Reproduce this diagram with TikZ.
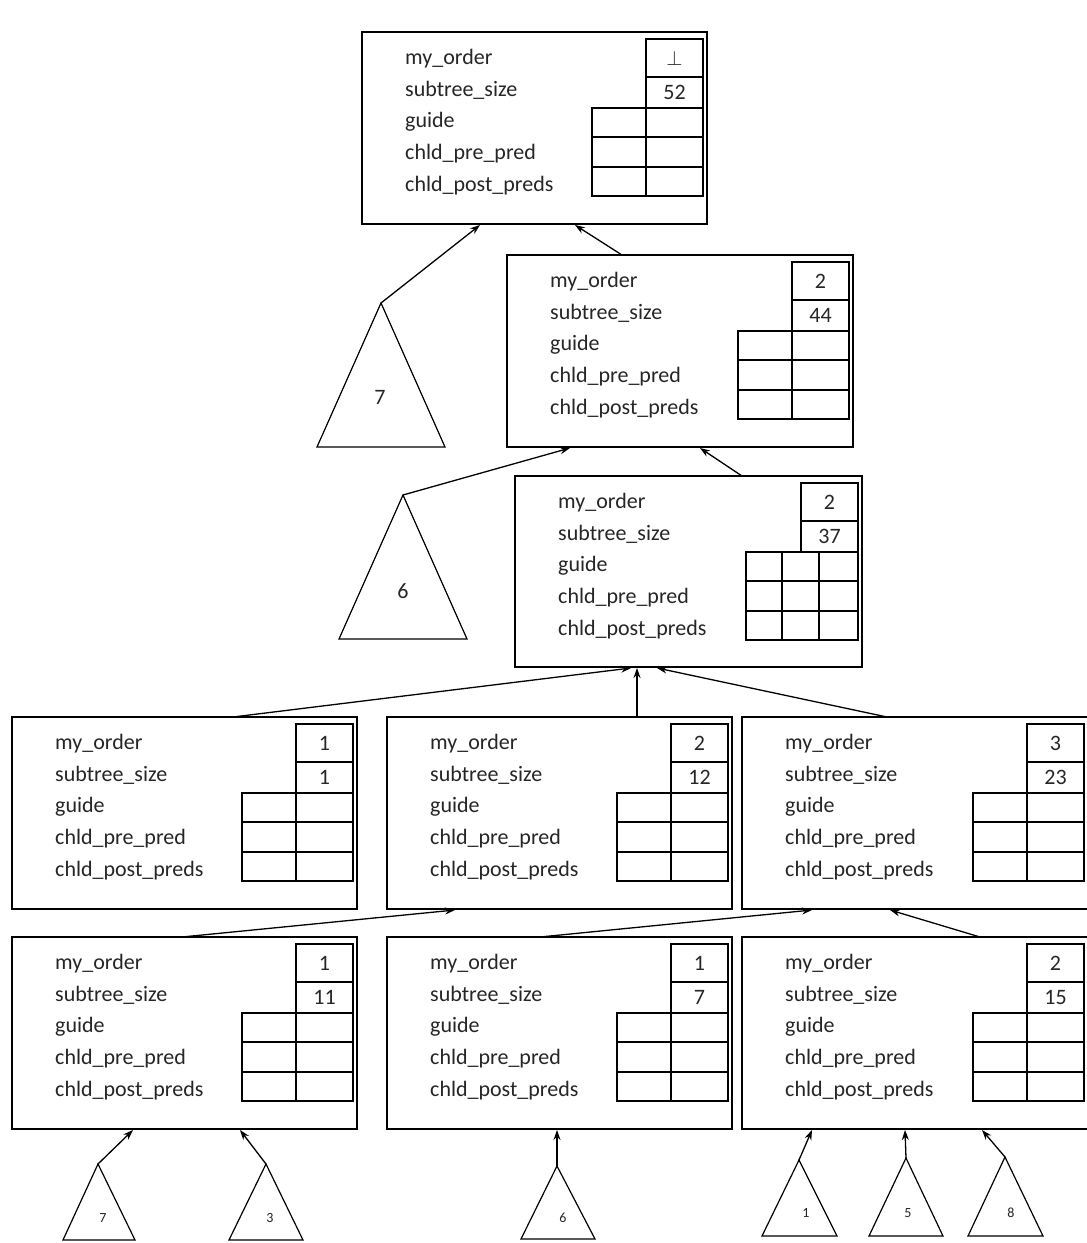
\documentclass[tikz,border=0pt]{standalone}
\usepackage{fontspec}
\setmainfont{Carlito}
\usetikzlibrary{arrows.meta,fit}
\tikzset{
  boxst/.style={draw, line width=1.6pt, inner sep=0pt},
  cell/.style={line width=1.3pt},
  lbl/.style={anchor=west, inner sep=0pt, text height=15pt, text depth=4pt, font=\fontsize{22}{26}\selectfont, text=black!85},
  val/.style={inner sep=0pt, font=\fontsize{22}{26}\selectfont, text=black!85},
  conn/.style={line width=1.3pt, -{Stealth[length=10pt,width=7pt]}},
  tri/.style={line width=1.2pt},
  bignum/.style={inner sep=0pt, font=\fontsize{22}{26}\selectfont, text=black!85},
  smallnum/.style={inner sep=0pt, font=\fontsize{14}{16}\selectfont, text=black!85},
}
% #1 name, #2 L, #3 T, #4 R, #5 B, #6 order, #7 size, #8 number of grid columns
\newcommand{\recbox}[8]{%
  \coordinate (#1-nw) at (#2,#3);
  \coordinate (#1-se) at (#4,#5);
  \node[boxst, fit=(#1-nw)(#1-se)] (#1) {};
  \node[lbl] (#1-l1) at (#2+43,#3+27) {my\_order};
  \node[lbl] (#1-l2) at (#2+43,#3+59) {subtree\_size};
  \node[lbl] (#1-l3) at (#2+43,#3+90) {guide};
  \node[lbl] (#1-l4) at (#2+43,#3+122) {chld\_pre\_pred};
  \node[lbl] (#1-l5) at (#2+43,#3+154) {chld\_post\_preds};
  \draw[cell] (#4-61,#3+76) -- (#4-61,#3+7) -- (#4-4,#3+7) -- (#4-4,#3+76);
  \draw[cell] (#4-61,#3+45) -- (#4-4,#3+45);
  \node[val] (#1-v1) at (#4-32.5,#3+26) {#6};
  \node[val] (#1-v2) at (#4-32.5,#3+60.5) {#7};
  \ifnum#8=3
    \draw[cell] (#4-116,#3+76) rectangle (#4-4,#3+164);
    \draw[cell] (#4-80,#3+76) -- (#4-80,#3+164);
    \draw[line width=1.8pt] (#4-43,#3+76) -- (#4-43,#3+164);
    \draw[cell] (#4-116,#3+105) -- (#4-4,#3+105);
    \draw[cell] (#4-116,#3+135) -- (#4-4,#3+135);
  \else
    \draw[cell] (#4-115,#3+76) rectangle (#4-4,#3+164);
    \draw[cell] (#4-61,#3+76) -- (#4-61,#3+164);
    \draw[cell] (#4-115,#3+105) -- (#4-4,#3+105);
    \draw[cell] (#4-115,#3+135) -- (#4-4,#3+135);
  \fi
}
% #1 name, #2 apex x, #3 apex y, #4 base left x, #5 base right x, #6 base y
\newcommand{\subtri}[6]{%
  \coordinate (#1) at (#2,#3);
  \draw[tri] (#1) -- (#4,#6) -- (#5,#6) -- cycle;
}
\begin{document}
\begin{tikzpicture}[x=1pt,y=-1pt]
\useasboundingbox (0,0) rectangle (1087,1243);
\fill[white] (0,0) rectangle (1087,1243);

\recbox{A}{362}{32}{707}{224}{$\perp$}{52}{2}
\recbox{B}{507}{255}{853}{447}{2}{44}{2}
\recbox{C}{515}{476}{862}{667}{2}{37}{3}
\recbox{D1}{12}{717}{357}{909}{1}{1}{2}
\recbox{D2}{387}{717}{732}{909}{2}{12}{2}
\draw[line width=1.9pt] (671,793) -- (671,881);
\recbox{D3}{742}{717}{1088}{909}{3}{23}{2}
\recbox{E1}{12}{937}{357}{1129}{1}{11}{2}
\recbox{E2}{387}{937}{732}{1129}{1}{7}{2}
\recbox{E3}{742}{937}{1088}{1129}{2}{15}{2}

% big subtree triangles
\subtri{Ta}{381}{303}{317}{445}{447}
\node[bignum] (Ta-l) at (380,397) {7};
\subtri{Tb}{403}{495}{339}{467}{639}
\node[bignum] (Tb-l) at (403,591) {6};

% small subtree triangles
\subtri{Tc}{98}{1164}{63}{135}{1240}
\node[smallnum] (Tc-l) at (103,1218) {7};
\subtri{Td}{266}{1164}{229}{303}{1240}
\node[smallnum] (Td-l) at (270,1218) {3};
\subtri{Te}{557}{1166}{521}{595}{1239}
\node[smallnum] (Te-l) at (563,1218) {6};
\subtri{Tf}{799}{1160}{762}{837}{1236}
\node[smallnum] (Tf-l) at (806,1213) {1};
\subtri{Tg}{906}{1158}{869}{943}{1236}
\node[smallnum] (Tg-l) at (908,1213) {5};
\subtri{Th}{1005}{1157}{968}{1043}{1236}
\node[smallnum] (Th-l) at (1011,1213) {8};

% connector end points
\coordinate (A-i1) at (480,225);
\coordinate (A-i2) at (575,225);
\coordinate (B-o) at (622,255);
\coordinate (B-i1) at (570,448);
\coordinate (B-i2) at (700,448);
\coordinate (C-o) at (742,476);
\coordinate (C-i1) at (631,668);
\coordinate (C-i2) at (637,668);
\coordinate (C-i3) at (657,668);
\coordinate (D1-o) at (233,717);
\coordinate (D2-o) at (637,717);
\coordinate (D3-o) at (887,717);
\coordinate (D2-i) at (455,910);
\coordinate (D3-i1) at (812,910);
\coordinate (D3-i2) at (890,910);
\coordinate (E1-o) at (182,937);
\coordinate (E2-o) at (540,937);
\coordinate (E3-o) at (980,937);
\coordinate (E1-i1) at (133,1130);
\coordinate (E1-i2) at (240,1130);
\coordinate (E2-i) at (557,1130);
\coordinate (E3-i1) at (812,1130);
\coordinate (E3-i2) at (905,1130);
\coordinate (E3-i3) at (982,1130);

\draw[conn] (Ta) -- (A-i1);
\draw[conn] (B-o) -- (A-i2);
\draw[conn] (Tb) -- (B-i1);
\draw[conn] (C-o) -- (B-i2);
\draw[conn] (D1-o) -- (C-i1);
\draw[conn] (D2-o) -- (C-i2);
\draw[conn] (D3-o) -- (C-i3);
\draw[conn] (E1-o) -- (D2-i);
\draw[conn] (E2-o) -- (D3-i1);
\draw[conn] (E3-o) -- (D3-i2);
\draw[conn] (Tc) -- (E1-i1);
\draw[conn] (Td) -- (E1-i2);
\draw[conn] (Te) -- (E2-i);
\draw[conn] (Tf) -- (E3-i1);
\draw[conn] (Tg) -- (E3-i2);
\draw[conn] (Th) -- (E3-i3);
\end{tikzpicture}
\end{document}
